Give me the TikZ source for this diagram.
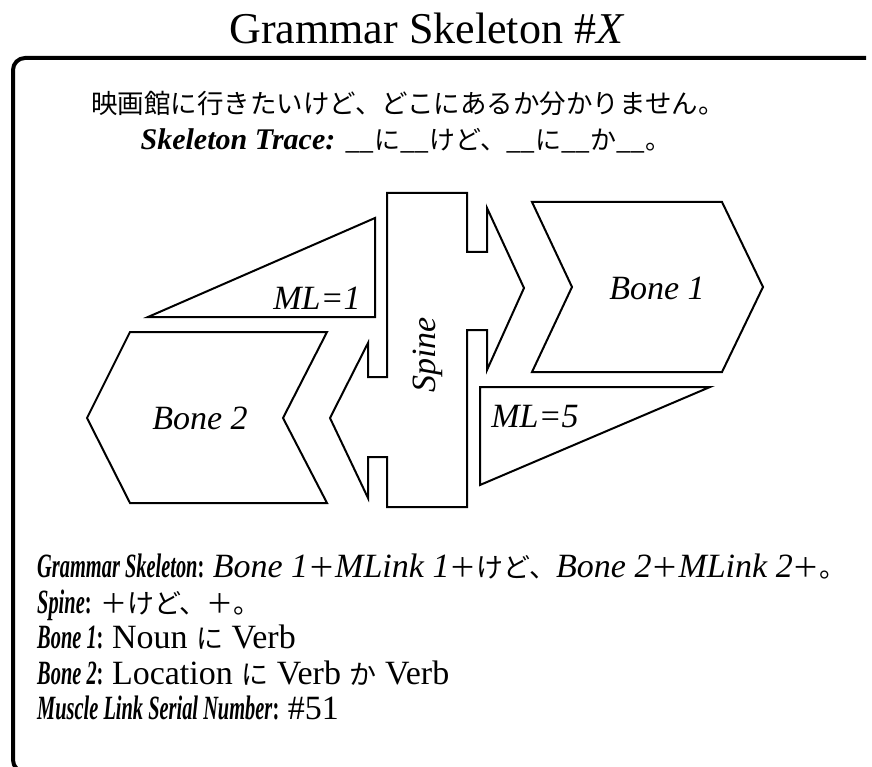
\documentclass[tikz,border=0pt]{standalone}
\usepackage{fontspec}
\usepackage{graphicx}
\setmainfont{Liberation Serif}
\newfontfamily\jp{Noto Sans CJK JP}
\newcommand{\skellabel}[1]{\scalebox{0.6}[1]{\bfseries\itshape #1}}
\newcommand{\jpinfo}[1]{{\jp\fontsize{27}{32}\selectfont #1}}
\tikzset{x=1pt, y=-1pt,
    shapeline/.style={draw, line width=2pt, line join=miter},
    frameline/.style={draw, line width=4pt},
    shapelabel/.style={font=\fontsize{34}{38}\selectfont\itshape},
    infoline/.style={anchor=base west, inner sep=0pt, font=\fontsize{34}{38}\selectfont}}

\begin{document}
\begin{tikzpicture}
    \useasboundingbox (0,0) rectangle (872,767);
    \clip (0,0) rectangle (872,767);
    % title and frame
    \node[font=\fontsize{44}{50}\selectfont] (title) at (427,28) {Grammar Skeleton \#\textit{X}};
    \draw[frameline, rounded corners=12pt] (866,58) -| (13,772) -- (80,772);
    % sentence and trace
    \node[font=\fontsize{26.5}{30}\selectfont\jp] (sentence) at (408,103) {映画館に行きたいけど、どこにあるか分かりません。};
    \node[font=\fontsize{30}{34}\selectfont] (trace) at (406,141)
        {\textbf{\textit{Skeleton Trace:}} {\jp\fontsize{26}{30}\selectfont \_\_に\_\_けど、\_\_に\_\_か\_\_。}};
    % muscle links
    \draw[shapeline] (148,317) -- (375,218) -- (375,317) -- cycle;
    \node[shapelabel] (mlone) at (317,298) {ML=1};
    \draw[shapeline] (480,387) -- (710,387) -- (480,485) -- cycle;
    \node[shapelabel] (mlfive) at (535,417) {ML=5};
    % bones
    \draw[shapeline] (532,202) -- (722,202) -- (763,287) -- (722,372) -- (532,372) -- (572,287) -- cycle;
    \node[shapelabel] (boneone) at (657,288) {Bone 1};
    \draw[shapeline] (130,332) -- (327,332) -- (283,418) -- (327,503) -- (130,503) -- (87,418) -- cycle;
    \node[shapelabel] (bonetwo) at (200,418) {Bone 2};
    % spine
    \draw[shapeline] (387,193) -- (387,377) -- (368,377) -- (368,343) -- (330,418) -- (368,498)
        -- (368,457) -- (387,457) -- (387,507) -- (467,507) -- (467,330) -- (487,330) -- (487,370)
        -- (524,288) -- (487,208) -- (487,252) -- (467,252) -- (467,193) -- cycle;
    \node[shapelabel, rotate=90] (spine) at (428,355) {Spine};
    % skeleton info
    \node[infoline] (gskel) at (37,577) {\skellabel{Grammar Skeleton\textup{:}} \textit{Bone 1}\jpinfo{＋}\textit{MLink 1}\jpinfo{＋けど、}\textit{Bone 2}\jpinfo{＋}\textit{MLink 2}\jpinfo{＋。}};
    \node[infoline] (gspine) at (37,613) {\skellabel{Spine\textup{:}} \jpinfo{＋けど、＋。}};
    \node[infoline] (gboneone) at (37,648) {\skellabel{Bone 1\textup{:}} Noun \jpinfo{に} Verb};
    \node[infoline] (gbonetwo) at (37,684) {\skellabel{Bone 2\textup{:}} Location \jpinfo{に} Verb \jpinfo{か} Verb};
    \node[infoline] (gserial) at (37,719) {\skellabel{Muscle Link Serial Number\textup{:}} \#51};
\end{tikzpicture}
\end{document}
